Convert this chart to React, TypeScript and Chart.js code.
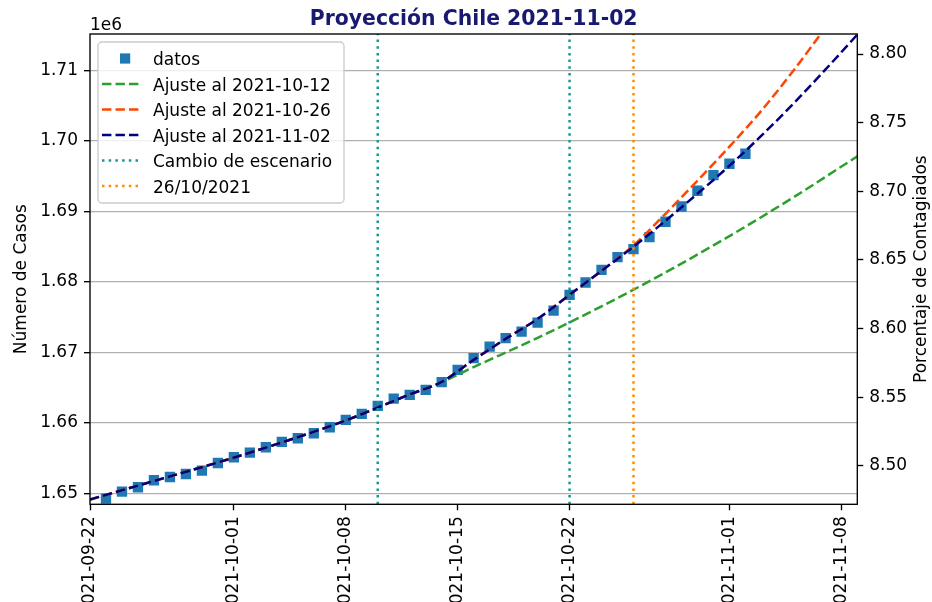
import React, { useEffect, useRef } from 'react';
import { Chart, registerables } from 'chart.js';

Chart.register(...registerables);

const W = 932;
const H = 650;

const chartTitle = 'Proyección Chile 2021-11-02';
const yTitle = 'Número de Casos';
const y2Title = 'Porcentaje de Contagiados';
const offsetLabel = '1e6';

const xStart = '2021-09-22';
const xEnd = '2021-11-09';
const tickDates = ['2021-09-22', '2021-10-01', '2021-10-08', '2021-10-15', '2021-10-22', '2021-11-01', '2021-11-08'];
const leftTicks = [1650000, 1660000, 1670000, 1680000, 1690000, 1700000, 1710000];
const rightTicks = [8.5, 8.55, 8.6, 8.65, 8.7, 8.75, 8.8];
const yMin = 1648438;
const yMax = 1715168;
const pctMin = 8.47209;
const pctMax = 8.81458;

const dataDates = [
  '2021-09-23', '2021-09-24', '2021-09-25', '2021-09-26', '2021-09-27', '2021-09-28', '2021-09-29', '2021-09-30',
  '2021-10-01', '2021-10-02', '2021-10-03', '2021-10-04', '2021-10-05', '2021-10-06', '2021-10-07', '2021-10-08',
  '2021-10-09', '2021-10-10', '2021-10-11', '2021-10-12', '2021-10-13', '2021-10-14', '2021-10-15', '2021-10-16',
  '2021-10-17', '2021-10-18', '2021-10-19', '2021-10-20', '2021-10-21', '2021-10-22', '2021-10-23', '2021-10-24',
  '2021-10-25', '2021-10-26', '2021-10-27', '2021-10-28', '2021-10-29', '2021-10-30', '2021-10-31', '2021-11-01',
  '2021-11-02',
];
const casos = [
  1649233, 1650227, 1650852, 1651846, 1652315, 1652741, 1653209, 1654303,
  1655112, 1655765, 1656532, 1657285, 1657810, 1658520, 1659372, 1660409,
  1661261, 1662397, 1663433, 1663960, 1664669, 1665762, 1667509, 1669170,
  1670817, 1672010, 1672947, 1674225, 1675929, 1678159, 1679905, 1681709,
  1683512, 1684648, 1686352, 1688525, 1690697, 1692927, 1695156, 1696761,
  1698181,
];

const fitDates1012 = ['2021-09-22', '2021-09-26', '2021-09-30', '2021-10-04', '2021-10-08', '2021-10-12', '2021-10-14', '2021-10-16', '2021-10-20', '2021-10-24', '2021-10-28', '2021-11-01', '2021-11-05', '2021-11-09'];
const fit1012 = [1649120, 1651747, 1654374, 1657214, 1660338, 1664030, 1665780, 1667906, 1672053, 1676526, 1681339, 1686494, 1691989, 1697811];

const fitDates1026 = ['2021-09-22', '2021-09-26', '2021-09-30', '2021-10-04', '2021-10-08', '2021-10-12', '2021-10-14', '2021-10-16', '2021-10-18', '2021-10-20', '2021-10-22', '2021-10-24', '2021-10-26', '2021-10-28', '2021-10-30', '2021-11-01', '2021-11-03', '2021-11-05', '2021-11-07', '2021-11-09'];
const fit1026 = [1649120, 1651747, 1654374, 1657214, 1660338, 1664030, 1665805, 1668929, 1671911, 1674751, 1678159, 1681567, 1685188, 1689661, 1694347, 1699175, 1704287, 1709967, 1716073, 1722463];

const fitDates1102 = ['2021-09-22', '2021-09-26', '2021-09-30', '2021-10-04', '2021-10-08', '2021-10-12', '2021-10-14', '2021-10-16', '2021-10-18', '2021-10-20', '2021-10-22', '2021-10-24', '2021-10-26', '2021-10-28', '2021-10-30', '2021-11-01', '2021-11-03', '2021-11-05', '2021-11-07', '2021-11-09'];
const fit1102 = [1649120, 1651747, 1654374, 1657214, 1660338, 1664030, 1665805, 1668929, 1671911, 1674751, 1678159, 1681567, 1684975, 1688667, 1692501, 1696477, 1700737, 1705281, 1710109, 1715079];

const cambioDates = ['2021-10-10', '2021-10-22'];
const marcaDate = '2021-10-26';

const legendLabels = ['datos', 'Ajuste al 2021-10-12', 'Ajuste al 2021-10-26', 'Ajuste al 2021-11-02', 'Cambio de escenario', '26/10/2021'];

const C_DATA = '#1f77b4';
const C_G = '#2ca02c';
const C_R = '#ff4500';
const C_N = '#000080';
const C_T = '#17998f';
const C_O = '#ff8c00';

const FONT = '"DejaVu Sans", sans-serif';
const FS = 17;
const LW = 2.5;
const DASH = [9.4, 4.1];
const DOT = [2.5, 4.2];

const START = Date.UTC(2021, 8, 22);
const dayIndex = (s: string) => {
  const [y, m, d] = s.split('-').map(Number);
  return (Date.UTC(y, m - 1, d) - START) / 86400000;
};
const pts = (dates: string[], vals: number[]) => dates.map((d, i) => ({ x: dayIndex(d), y: vals[i] }));

const legendItems = [
  { kind: 'square', color: C_DATA },
  { kind: 'line', color: C_G, dash: DASH },
  { kind: 'line', color: C_R, dash: DASH },
  { kind: 'line', color: C_N, dash: DASH },
  { kind: 'line', color: C_T, dash: DOT },
  { kind: 'line', color: C_O, dash: DOT },
];

const decor = {
  id: 'decor',
  beforeDraw(chart: any) {
    const ctx = chart.ctx;
    ctx.save();
    ctx.fillStyle = '#ffffff';
    ctx.fillRect(0, 0, chart.width, chart.height);
    ctx.restore();
  },
  afterDraw(chart: any) {
    const ctx = chart.ctx;
    const a = chart.chartArea;
    ctx.save();
    // frame
    ctx.strokeStyle = '#000';
    ctx.lineWidth = 1.36;
    ctx.setLineDash([]);
    ctx.strokeRect(a.left, a.top, a.right - a.left, a.bottom - a.top);
    // title
    ctx.fillStyle = '#191970';
    ctx.font = `bold 20.4px ${FONT}`;
    ctx.textAlign = 'center';
    ctx.textBaseline = 'alphabetic';
    ctx.fillText(chartTitle, (a.left + a.right) / 2, 25);
    // offset text
    ctx.fillStyle = '#000';
    ctx.font = `${FS}px ${FONT}`;
    ctx.textAlign = 'left';
    ctx.fillText(offsetLabel, a.left, 30);
    // axis titles
    const cy = (a.top + a.bottom) / 2;
    ctx.textAlign = 'center';
    ctx.textBaseline = 'middle';
    ctx.save();
    ctx.translate(22, cy + 10);
    ctx.rotate(-Math.PI / 2);
    ctx.fillText(yTitle, 0, 0);
    ctx.restore();
    ctx.save();
    ctx.translate(922, cy);
    ctx.rotate(-Math.PI / 2);
    ctx.fillText(y2Title, 0, 0);
    ctx.restore();
    // legend
    const bx = 98, by = 42, bw = 246, bh = 161;
    ctx.beginPath();
    ctx.roundRect(bx, by, bw, bh, 4);
    ctx.fillStyle = 'rgba(255,255,255,0.8)';
    ctx.fill();
    ctx.strokeStyle = '#cccccc';
    ctx.lineWidth = 1.36;
    ctx.stroke();
    ctx.textAlign = 'left';
    ctx.textBaseline = 'alphabetic';
    ctx.font = `${FS}px ${FONT}`;
    legendItems.forEach((it, i) => {
      const base = 65 + 25.5 * i;
      const hy = base - 6.5;
      if (it.kind === 'square') {
        ctx.fillStyle = it.color;
        ctx.fillRect(120, hy - 5.1, 10.2, 10.2);
      } else {
        ctx.beginPath();
        ctx.strokeStyle = it.color;
        ctx.lineWidth = LW;
        ctx.setLineDash(it.dash as number[]);
        ctx.moveTo(102, hy);
        ctx.lineTo(140, hy);
        ctx.stroke();
        ctx.setLineDash([]);
      }
      ctx.fillStyle = '#000';
      ctx.fillText(legendLabels[i], 153, base);
    });
    ctx.restore();
  },
};

export default function App() {
  const ref = useRef<HTMLCanvasElement>(null);
  useEffect(() => {
    const canvas = ref.current;
    if (!canvas) return;
    Chart.defaults.font.family = FONT;
    Chart.defaults.color = '#000';
    const vline = (dates: string[]) => {
      const out: any[] = [];
      dates.forEach((d, i) => {
        if (i > 0) out.push({ x: dayIndex(d), y: null });
        out.push({ x: dayIndex(d), y: yMin });
        out.push({ x: dayIndex(d), y: yMax });
      });
      return out;
    };
    const fitStyle = (color: string, order: number) => ({
      borderColor: color,
      backgroundColor: color,
      borderWidth: LW,
      borderDash: DASH,
      pointRadius: 0,
      fill: false,
      cubicInterpolationMode: 'monotone' as const,
      order,
    });
    const chart = new Chart(canvas, {
      type: 'line',
      data: {
        datasets: [
          {
            label: legendLabels[0],
            data: pts(dataDates, casos),
            showLine: false,
            pointStyle: 'rect',
            pointRadius: 7.3,
            pointBorderWidth: 0,
            pointBackgroundColor: C_DATA,
            borderColor: C_DATA,
            backgroundColor: C_DATA,
            order: 6,
          },
          { label: legendLabels[1], data: pts(fitDates1012, fit1012), ...fitStyle(C_G, 5) },
          { label: legendLabels[2], data: pts(fitDates1026, fit1026), ...fitStyle(C_R, 4) },
          { label: legendLabels[3], data: pts(fitDates1102, fit1102), ...fitStyle(C_N, 3) },
          {
            label: legendLabels[4],
            data: vline(cambioDates),
            borderColor: C_T,
            borderWidth: LW,
            borderDash: DOT,
            pointRadius: 0,
            spanGaps: false,
            order: 2,
          },
          {
            label: legendLabels[5],
            data: vline([marcaDate]),
            borderColor: C_O,
            borderWidth: LW,
            borderDash: DOT,
            pointRadius: 0,
            order: 1,
          },
        ] as any,
      },
      options: {
        responsive: false,
        maintainAspectRatio: false,
        animation: false,
        layout: { padding: { top: 34, left: 0, right: 0, bottom: 0 } },
        plugins: {
          legend: { display: false },
          tooltip: { enabled: false },
          title: { display: false },
        },
        scales: {
          x: {
            type: 'linear',
            position: 'bottom',
            min: dayIndex(xStart),
            max: dayIndex(xEnd),
            afterBuildTicks: (s: any) => {
              s.ticks = tickDates.map((d) => ({ value: dayIndex(d) }));
            },
            afterFit: (s: any) => {
              s.height = H - 504.3;
            },
            ticks: {
              autoSkip: false,
              minRotation: 90,
              maxRotation: 90,
              padding: 6,
              font: { size: FS },
              color: '#000',
              callback: (v: any) => {
                const i = tickDates.findIndex((d) => dayIndex(d) === v);
                return i >= 0 ? tickDates[i] : '';
              },
            },
            grid: { drawOnChartArea: false, drawTicks: true, tickLength: 6, tickColor: '#000', tickWidth: 1.36 },
            border: { display: false },
          },
          y: {
            type: 'linear',
            position: 'left',
            min: yMin,
            max: yMax,
            afterBuildTicks: (s: any) => {
              s.ticks = leftTicks.map((v) => ({ value: v }));
            },
            afterFit: (s: any) => {
              s.width = 90;
            },
            ticks: {
              padding: 6,
              font: { size: FS },
              color: '#000',
              callback: (v: any) => (Number(v) / 1e6).toFixed(2),
            },
            grid: { color: '#b0b0b0', lineWidth: 1.36, drawTicks: true, tickLength: 6, tickColor: '#000', tickWidth: 1.36 },
            border: { display: false },
          },
          y1: {
            type: 'linear',
            position: 'right',
            min: pctMin,
            max: pctMax,
            afterBuildTicks: (s: any) => {
              s.ticks = rightTicks.map((v) => ({ value: v }));
            },
            afterFit: (s: any) => {
              s.width = W - 857.3;
            },
            ticks: {
              padding: 6,
              font: { size: FS },
              color: '#000',
              callback: (v: any) => Number(v).toFixed(2),
            },
            grid: { drawOnChartArea: false, drawTicks: true, tickLength: 6, tickColor: '#000', tickWidth: 1.36 },
            border: { display: false },
          },
        },
      } as any,
      plugins: [decor],
    });
    return () => chart.destroy();
  }, []);
  return (
    <div style={{ position: 'fixed', left: 0, top: 0, width: W, height: H, background: '#fff' }}>
      <canvas ref={ref} width={W} height={H} style={{ display: 'block', width: W, height: H }} />
    </div>
  );
}
